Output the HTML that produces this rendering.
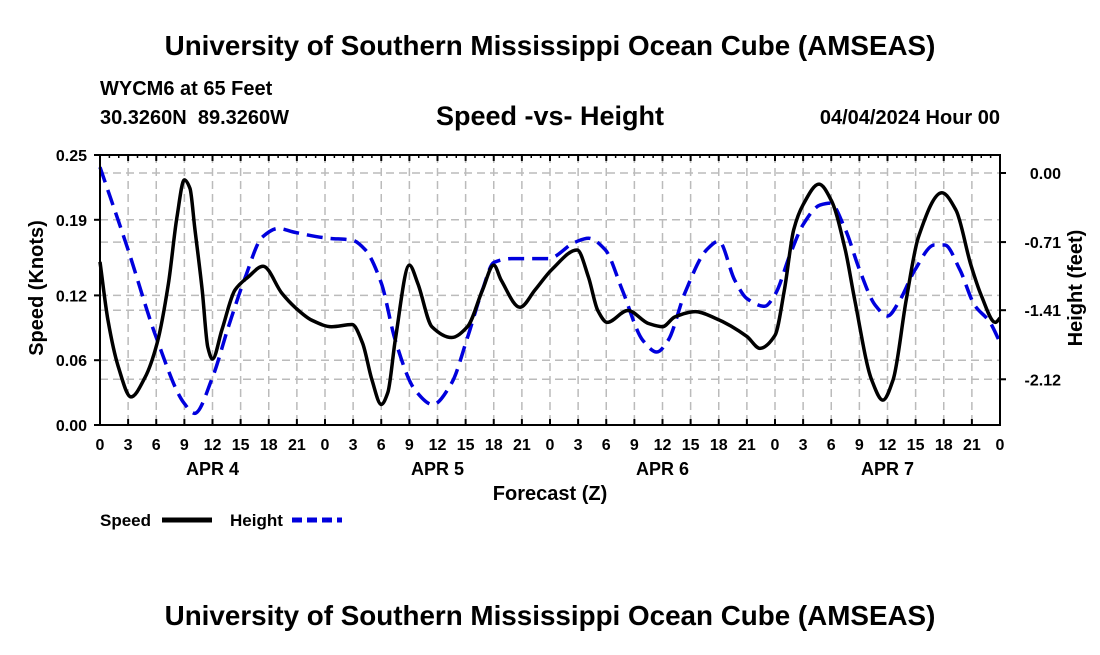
<!DOCTYPE html>
<html><head><meta charset="utf-8"><style>
body{margin:0;background:#fff;}
svg text{font-family:"Liberation Sans",sans-serif;font-weight:bold;fill:#000;}
</style></head><body>
<svg id="chart" width="1100" height="650" xmlns="http://www.w3.org/2000/svg">
<rect width="1100" height="650" fill="#fff"/>
<text x="550" y="55" font-size="27.8" text-anchor="middle">University of Southern Mississippi Ocean Cube (AMSEAS)</text>
<text x="100" y="95" font-size="20">WYCM6 at 65 Feet</text>
<text x="100" y="124" font-size="20" xml:space="preserve">30.3260N  89.3260W</text>
<text x="550" y="125" font-size="27" text-anchor="middle">Speed -vs- Height</text>
<text x="1000" y="124" font-size="20" text-anchor="end">04/04/2024 Hour 00</text>
<g id="grid"></g>
<g id="series"></g>
<g id="axes"></g>
<text x="550" y="500" font-size="20" text-anchor="middle">Forecast (Z)</text>
<text transform="translate(43,288) rotate(-90)" font-size="20" text-anchor="middle">Speed (Knots)</text>
<text transform="translate(1082,288) rotate(-90)" font-size="20" text-anchor="middle">Height (feet)</text>
<g>
<text x="100" y="526" font-size="17">Speed</text>
<line x1="162" y1="520" x2="212" y2="520" stroke="#000" stroke-width="5"/>
<text x="230" y="526" font-size="17">Height</text>
<line x1="292" y1="520" x2="342" y2="520" stroke="#0000dd" stroke-width="5" stroke-dasharray="10,5"/>
</g>
<text x="550" y="625" font-size="27.8" text-anchor="middle">University of Southern Mississippi Ocean Cube (AMSEAS)</text>
</svg>
<script>
const speedHours=[0,0.85,1.95,3.3,4.8,6.1,7.3,8.2,9,9.6,10.1,10.9,11.5,12,13,14.4,15.8,17.4,19.4,20.8,22.6,24.7,26.9,28,29,30,30.7,31.5,33,33.9,35.4,37.5,39.2,40.8,42,42.8,44.8,46.4,48.2,50.9,52.1,53.1,54.1,56.3,58.5,60,61.3,63.5,65.6,69,70.4,72,73,74,75,76.7,78,79.5,80.5,82.3,83.5,84.6,86,87.3,89.8,91.3,92.9,94,95.5,96];
const speedValues=[0.151,0.097,0.054,0.026,0.044,0.076,0.131,0.192,0.227,0.219,0.183,0.125,0.072,0.061,0.088,0.125,0.137,0.147,0.122,0.109,0.097,0.091,0.093,0.076,0.042,0.019,0.030,0.079,0.148,0.131,0.091,0.081,0.091,0.125,0.148,0.134,0.109,0.125,0.144,0.162,0.137,0.106,0.095,0.106,0.094,0.091,0.100,0.105,0.099,0.082,0.071,0.083,0.125,0.181,0.204,0.223,0.208,0.162,0.116,0.042,0.023,0.042,0.116,0.174,0.215,0.199,0.148,0.120,0.095,0.099];
const heightHours=[0,3,6,9,10.1,12,13.7,15.5,17.3,19,20.8,24.3,26.9,28.3,30,31.5,33.6,35.5,37.5,39.2,40.8,42,43.9,47.8,50.7,52.1,53.9,55.7,57.9,59.4,60.6,62.4,64.7,66,67.7,69,70.9,72,73.6,75,76.8,77.9,79.5,81,82.7,84,85.3,86.9,89,90.1,91.7,93.3,94.9,96];
const heightValues=[0.06,-0.79,-1.69,-2.37,-2.47,-2.10,-1.58,-1.07,-0.66,-0.57,-0.61,-0.67,-0.69,-0.79,-1.13,-1.72,-2.23,-2.38,-2.16,-1.69,-1.20,-0.92,-0.88,-0.88,-0.71,-0.67,-0.79,-1.20,-1.72,-1.84,-1.72,-1.23,-0.79,-0.70,-1.10,-1.29,-1.37,-1.25,-0.84,-0.53,-0.33,-0.31,-0.58,-0.99,-1.36,-1.47,-1.31,-1.0,-0.74,-0.74,-0.99,-1.36,-1.53,-1.74];
const leftTicks=[0,0.06,0.12,0.19,0.25];
const leftTickLabels=["0.00","0.06","0.12","0.19","0.25"];
const rightTicks=[0,-0.71,-1.41,-2.12];
const rightTickLabels=["0.00","-0.71","-1.41","-2.12"];
const dayLabels=["APR 4","APR 5","APR 6","APR 7"];
const X0=100,X1=1000,Y0=425,Y1=155;
const xs=h=>X0+h*(X1-X0)/96;
const yL=v=>Y0-v*(Y0-Y1)/0.25;
const yR=h=>173-h*97.3;
const NS="http://www.w3.org/2000/svg";
function mk(tag,attrs,parent){const e=document.createElementNS(NS,tag);for(const k in attrs)e.setAttribute(k,attrs[k]);document.getElementById(parent).appendChild(e);return e;}
for(let h=3;h<96;h+=3){const l=mk('line',{x1:xs(h),x2:xs(h),y1:Y1,y2:Y0,stroke:'#bbb','stroke-width':1.5,'stroke-dasharray':'8,5'},'grid');

}
leftTicks.slice(1,-1).forEach(v=>{const l=mk('line',{x1:X0,x2:X1,y1:yL(v),y2:yL(v),stroke:'#bbb','stroke-width':1.5,'stroke-dasharray':'8,5'},'grid');

});
rightTicks.forEach(v=>{const l=mk('line',{x1:X0,x2:X1,y1:yR(v),y2:yR(v),stroke:'#bbb','stroke-width':1.5,'stroke-dasharray':'8,5'},'grid');

});
function monotone(pts){const n=pts.length,d=[],m=[];
for(let i=0;i<n-1;i++)d.push((pts[i+1][1]-pts[i][1])/(pts[i+1][0]-pts[i][0]));
m[0]=d[0];m[n-1]=d[n-2];
for(let i=1;i<n-1;i++){if(d[i-1]*d[i]<=0)m[i]=0;else{const w1=2*(pts[i+1][0]-pts[i][0])+(pts[i][0]-pts[i-1][0]),w2=(pts[i+1][0]-pts[i][0])+2*(pts[i][0]-pts[i-1][0]);m[i]=(w1+w2)/(w1/d[i-1]+w2/d[i]);}}
let s='M'+pts[0][0]+','+pts[0][1];
for(let i=0;i<n-1;i++){const dx=(pts[i+1][0]-pts[i][0])/3;
s+=' C'+(pts[i][0]+dx)+','+(pts[i][1]+m[i]*dx)+' '+(pts[i+1][0]-dx)+','+(pts[i+1][1]-m[i+1]*dx)+' '+pts[i+1][0]+','+pts[i+1][1];}
return s;}
const hp=mk('path',{d:monotone(heightHours.map((h,i)=>[xs(h),yR(heightValues[i])])),fill:'none',stroke:'#0000dd','stroke-width':3.5,'stroke-dasharray':'16,8'},'series');


const sp=mk('path',{d:monotone(speedHours.map((h,i)=>[xs(h),yL(speedValues[i])])),fill:'none',stroke:'#000','stroke-width':3.5},'series');


const fr=mk('rect',{x:X0,y:Y1,width:X1-X0,height:Y0-Y1,fill:'none',stroke:'#000','stroke-width':2},'axes');


for(let h=0;h<=96;h+=3){const t=mk('text',{x:xs(h),y:450,'font-size':16,'text-anchor':'middle'},'axes');t.textContent=String(h%24);


mk('line',{x1:xs(h),x2:xs(h),y1:Y0,y2:Y0-6,stroke:'#000','stroke-width':2},'axes');
mk('line',{x1:xs(h),x2:xs(h),y1:Y1,y2:Y1+6,stroke:'#000','stroke-width':2},'axes');}
for(let h=1;h<96;h++){if(h%3)mk('line',{x1:xs(h),x2:xs(h),y1:Y1,y2:Y1+3,stroke:'#000','stroke-width':1.5},'axes');}
dayLabels.forEach((d,i)=>{const t=mk('text',{x:xs(i*24+12),y:475,'font-size':18,'text-anchor':'middle'},'axes');t.textContent=d;

});
leftTicks.forEach((v,i)=>{const t=mk('text',{x:87,y:yL(v)+6,'font-size':16,'text-anchor':'end'},'axes');t.textContent=leftTickLabels[i];


mk('line',{x1:X0,x2:X0-6,y1:yL(v),y2:yL(v),stroke:'#000','stroke-width':2},'axes');});
rightTicks.forEach((v,i)=>{const t=mk('text',{x:1061,y:yR(v)+6,'font-size':16,'text-anchor':'end'},'axes');t.textContent=rightTickLabels[i];


mk('line',{x1:X1,x2:X1+6,y1:yR(v),y2:yR(v),stroke:'#000','stroke-width':2},'axes');});
</script>
</body></html>
